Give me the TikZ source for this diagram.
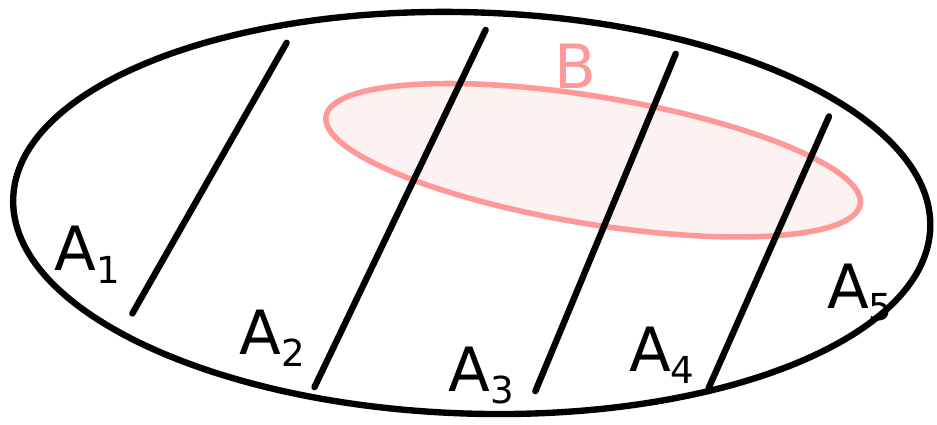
\documentclass[tikz,border=0pt]{standalone}
\usepackage{tikz}
\usepackage{fontspec}
\setmainfont{DejaVu Sans}
\usepackage{xcolor}

\newcommand{\sub}[1]{\raisebox{-0.2em}{\fontsize{28}{28}\selectfont #1}}

\begin{document}
\begin{tikzpicture}[x=0.75pt,y=0.75pt,yscale=-1,xscale=1,
  part/.style={line width=4.8pt,line cap=round},
  lbl/.style={inner sep=0.75pt,font=\fontsize{46}{46}\selectfont}]
\path (0,0) rectangle (937,425);

%Shape: Ellipse B
\draw [color={rgb, 255:red, 255; green, 153; blue, 153 },fill={rgb, 255:red, 253; green, 242; blue, 242 },line width=4.2pt] (596,161) ellipse [x radius=272, y radius=64, rotate=9.35];
%Shape: Ellipse Omega
\draw [line width=4.8pt] (474,214) ellipse [x radius=461, y radius=201.6, rotate=1.84];

%Straight Lines
\draw [part] (288,43) -- (133,315);
\draw [part] (488,30) -- (316,389);
\draw [part] (679,54) -- (538,393);
\draw [part] (833,117) -- (712,390);

% Text Node
\node (a1) [lbl] at (88,256) {A\sub{1}};
\node (a2) [lbl] at (274,340) {A\sub{2}};
\node (a3) [lbl] at (484,377) {A\sub{3}};
\node (a4) [lbl] at (665,357) {A\sub{4}};
\node (a5) [lbl] at (864,294) {A\sub{5}};
\node (b) [lbl,color={rgb, 255:red, 255; green, 153; blue, 153 }] at (578,67) {B};

\end{tikzpicture}
\end{document}
